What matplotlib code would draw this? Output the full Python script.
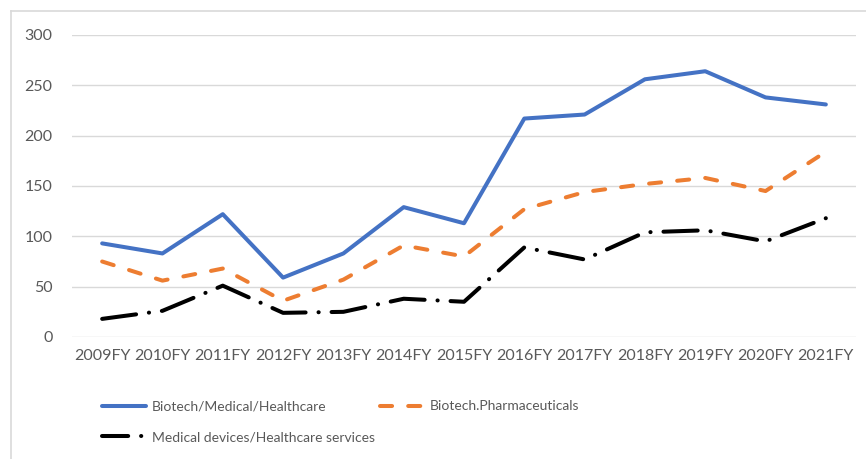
import numpy as np
import matplotlib.pyplot as plt
from matplotlib.lines import Line2D

plt.rcParams['font.family'] = ['Lato', 'DejaVu Sans']

# data
years = ["2009FY", "2010FY", "2011FY", "2012FY", "2013FY", "2014FY", "2015FY",
         "2016FY", "2017FY", "2018FY", "2019FY", "2020FY", "2021FY"]
biotech_medical = [93, 83, 122, 59, 83, 129, 113, 217, 221, 256, 264, 238, 231]
biotech_pharma = [75, 56, 68, 36, 57, 91, 80, 127, 144, 152, 158, 145, 184]
med_devices = [18, 26, 51, 24, 25, 38, 35, 89, 77, 104, 106, 95, 118]

text_col = "#595959"
grid_col = "#D9D9D9"

fig = plt.figure(figsize=(8.66, 4.59), dpi=100)
ax = fig.add_axes([72/866, 1-337/459, (856-72)/866, (337-35)/459])

x = np.arange(len(years))
lw = 2.9
l1, = ax.plot(x, biotech_medical, color="#4472C4", lw=lw, solid_capstyle="round",
              solid_joinstyle="round", label="Biotech/Medical/Healthcare")
l2, = ax.plot(x, biotech_pharma, color="#ED7D31", lw=lw, dash_capstyle="round",
              dashes=(3, 4), label="Biotech.Pharmaceuticals")
l3, = ax.plot(x, med_devices, color="black", lw=lw, dash_capstyle="round",
              dashes=(8.5, 3.2, 0.05, 3.2), label="Medical devices/Healthcare services")

ax.set_xlim(-0.5, len(years) - 0.5)
ax.set_ylim(0, 300)
ax.set_yticks(range(0, 301, 50))
ax.set_xticks(x)
ax.set_xticklabels(years)
ax.grid(axis="y", color=grid_col, lw=1)
ax.set_axisbelow(True)
for s in ax.spines.values():
    s.set_visible(False)
ax.tick_params(length=0, colors=text_col, labelsize=11.5)
ax.tick_params(axis="y", pad=14)
ax.tick_params(axis="x", pad=9)

# legend proxy for the dash-dot line, shorter pattern so the dot shows
l3_leg = Line2D([], [], color="black", lw=lw, dash_capstyle="round",
                dashes=(6.5, 3.2, 0.05, 3.2), label=l3.get_label())

fig.legend(handles=[l1, l3_leg, l2], ncol=2, frameon=False, loc="upper left",
           bbox_to_anchor=(89/866, 1-388/459), fontsize=10.0, labelcolor=text_col,
           handlelength=3.2, handletextpad=0.4, columnspacing=0.4, labelspacing=1.35)

# chart frame (partially visible)
fig.add_artist(Line2D([11/866, 11/866], [0, 1-11/459], color=grid_col, lw=1.2,
                      transform=fig.transFigure))
fig.add_artist(Line2D([11/866, 1], [1-11/459, 1-11/459], color=grid_col, lw=1.2,
                      transform=fig.transFigure))

fig.savefig("out.png", dpi=100)
